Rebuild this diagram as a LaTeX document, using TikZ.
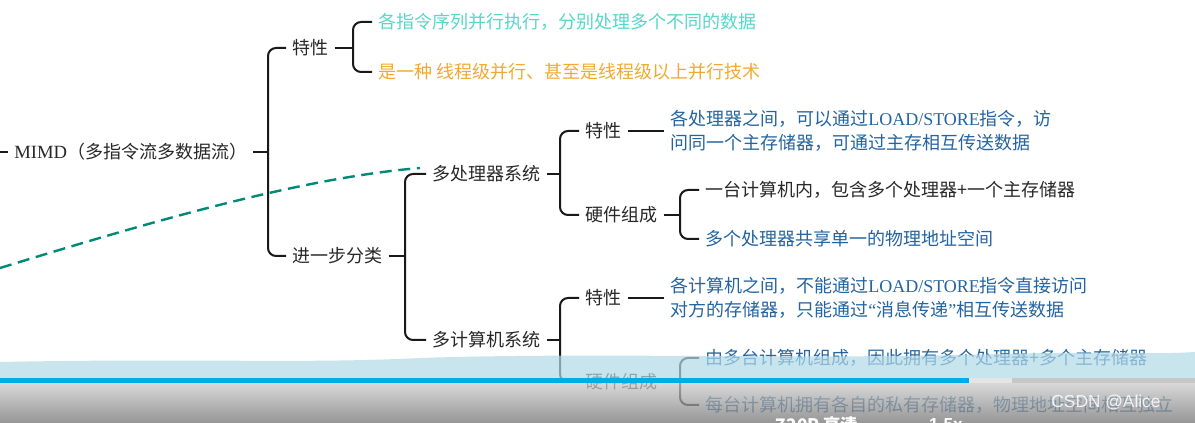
\documentclass[tikz,border=0pt]{standalone}
\usepackage{fontspec}
\setmainfont{Liberation Serif}
\newfontfamily\cjk{Noto Sans CJK SC}
\newfontfamily\wmfont{Liberation Sans}
\usepackage{tikz}
\usetikzlibrary{calc}
\definecolor{mapink}{RGB}{40,40,40}
\definecolor{mapcyan}{RGB}{88,214,202}
\definecolor{maporange}{RGB}{240,170,48}
\definecolor{mapblue}{RGB}{36,100,160}
\definecolor{mapteal}{RGB}{0,138,118}
\definecolor{barblue}{RGB}{0,172,228}
\definecolor{waveblue}{RGB}{178,218,232}

\begin{document}
\begin{tikzpicture}[x=0.75pt,y=-0.75pt,
  t/.style={anchor=west,inner xsep=4.5pt,inner ysep=1pt,text=mapink,font=\cjk\fontsize{13.5}{17.5}\selectfont,align=left},
  br/.style={line width=1.5pt,draw=black!90,rounded corners=6pt},
  ln/.style={line width=1.5pt,draw=black!90}]
\clip (0,0) rectangle (1195,423);
\useasboundingbox (0,0) rectangle (1195,423);
\fill[white] (0,0) rectangle (1195,423);
% Knoten der Mindmap, Positionen in Pixel des Bildschirmfotos
\node[t] (mimd) at (8,152) {{\rmfamily\fontsize{14}{17.5}\selectfont MIMD}（多指令流多数据流）};
\node[t] (ts) at (286,48) {特性};
\node[t] (stp) at (286,256) {进一步分类};
\node[t,text=mapcyan] (ts1) at (372,22) {各指令序列并行执行，分别处理多个不同的数据};
\node[t,text=maporange] (ts2) at (372,72) {是一种 线程级并行、甚至是线程级以上并行技术};
\node[t] (mp) at (426,174) {多处理器系统};
\node[t] (mpt) at (579,131) {特性};
\node[t,text=mapblue] (mptd) at (664,131) {各处理器之间，可以通过{\rmfamily LOAD/STORE}指令，访\\问同一个主存储器，可通过主存相互传送数据};
\node[t] (mph) at (579,215) {硬件组成};
\node[t] (mph1) at (699,190) {一台计算机内，包含多个处理器+一个主存储器};
\node[t,text=mapblue] (mph2) at (699,239) {多个处理器共享单一的物理地址空间};
\node[t] (mc) at (426,340) {多计算机系统};
\node[t] (mct) at (579,298) {特性};
\node[t,text=mapblue] (mctd) at (664,298) {各计算机之间，不能通过{\rmfamily LOAD/STORE}指令直接访问\\对方的存储器，只能通过{\rmfamily “}消息传递{\rmfamily ”}相互传送数据};
\node[t] (mch) at (579,382) {硬件组成};
\node[t,text=mapblue] (mch1) at (699,358) {由多台计算机组成，因此拥有多个处理器+多个主存储器};
\node[t,text=mapblue] (mch2) at (699,405) {每台计算机拥有各自的私有存储器，物理地址空间相互独立};
% Verzweigungspunkte
\coordinate (edge) at (0,152);
\coordinate (j0) at (268,152);
\coordinate (j1) at (353,48);
\coordinate (j2) at (405,256);
\coordinate (j3) at (560,174);
\coordinate (j4) at (680,215);
\coordinate (j5) at (560,340);
\coordinate (j6) at (680,382);
\draw[ln] (edge) -- (mimd.west);
\draw[ln] (mimd.east) -- (j0);
\draw[br] (ts.west) -| (j0) |- (stp.west);
\draw[ln] (ts.east) -- (j1);
\draw[br] (ts1.west) -| (j1) |- (ts2.west);
\draw[ln] (stp.east) -- (j2);
\draw[br] (mp.west) -| (j2) |- (mc.west);
\draw[ln] (mp.east) -- (j3);
\draw[br] (mpt.west) -| (j3) |- (mph.west);
\draw[ln] (mpt.east) -- (mptd.west);
\draw[ln] (mph.east) -- (j4);
\draw[br] (mph1.west) -| (j4) |- (mph2.west);
\draw[ln] (mc.east) -- (j5);
\draw[br] (mct.west) -| (j5) |- (mch.west);
\draw[ln] (mct.east) -- (mctd.west);
\draw[ln] (mch.east) -- (j6);
\draw[br] (mch1.west) -| (j6) |- (mch2.west);
% gestrichelte Kurve
\coordinate (cv0) at (0,268);
\coordinate (cv1) at (420,168);
\draw[mapteal,line width=1.8pt,dash pattern=on 9pt off 5pt] (cv0) .. controls (150,222) and (300,178) .. (cv1);
% Videoleiste unten
\fill[waveblue,fill opacity=0.7] (0,362) .. controls (200,358) and (300,364) .. (420,358)
  .. controls (600,352) and (800,360) .. (1000,354) .. controls (1100,351) and (1150,355) .. (1195,352)
  -- (1195,378) -- (0,378) -- cycle;
\shade[top color=black!20,bottom color=black!55,opacity=0.75] (0,383) rectangle (1195,423);
\fill[barblue] (0,378) rectangle (969,383);
\fill[black!10] (969,378) rectangle (1012,383);
\fill[black!22] (1012,378) rectangle (1195,383);
\node[font=\wmfont\fontsize{13}{15}\selectfont,text=white,text opacity=0.85] (wm) at (1106,402) {CSDN @Alice};
\node[font=\cjk\bfseries\fontsize{13}{15}\selectfont,text=white] (q) at (817,425) {720P 高清};
\node[font=\wmfont\bfseries\fontsize{13}{15}\selectfont,text=white] (sp) at (946,425) {1.5x};
\end{tikzpicture}
\end{document}
